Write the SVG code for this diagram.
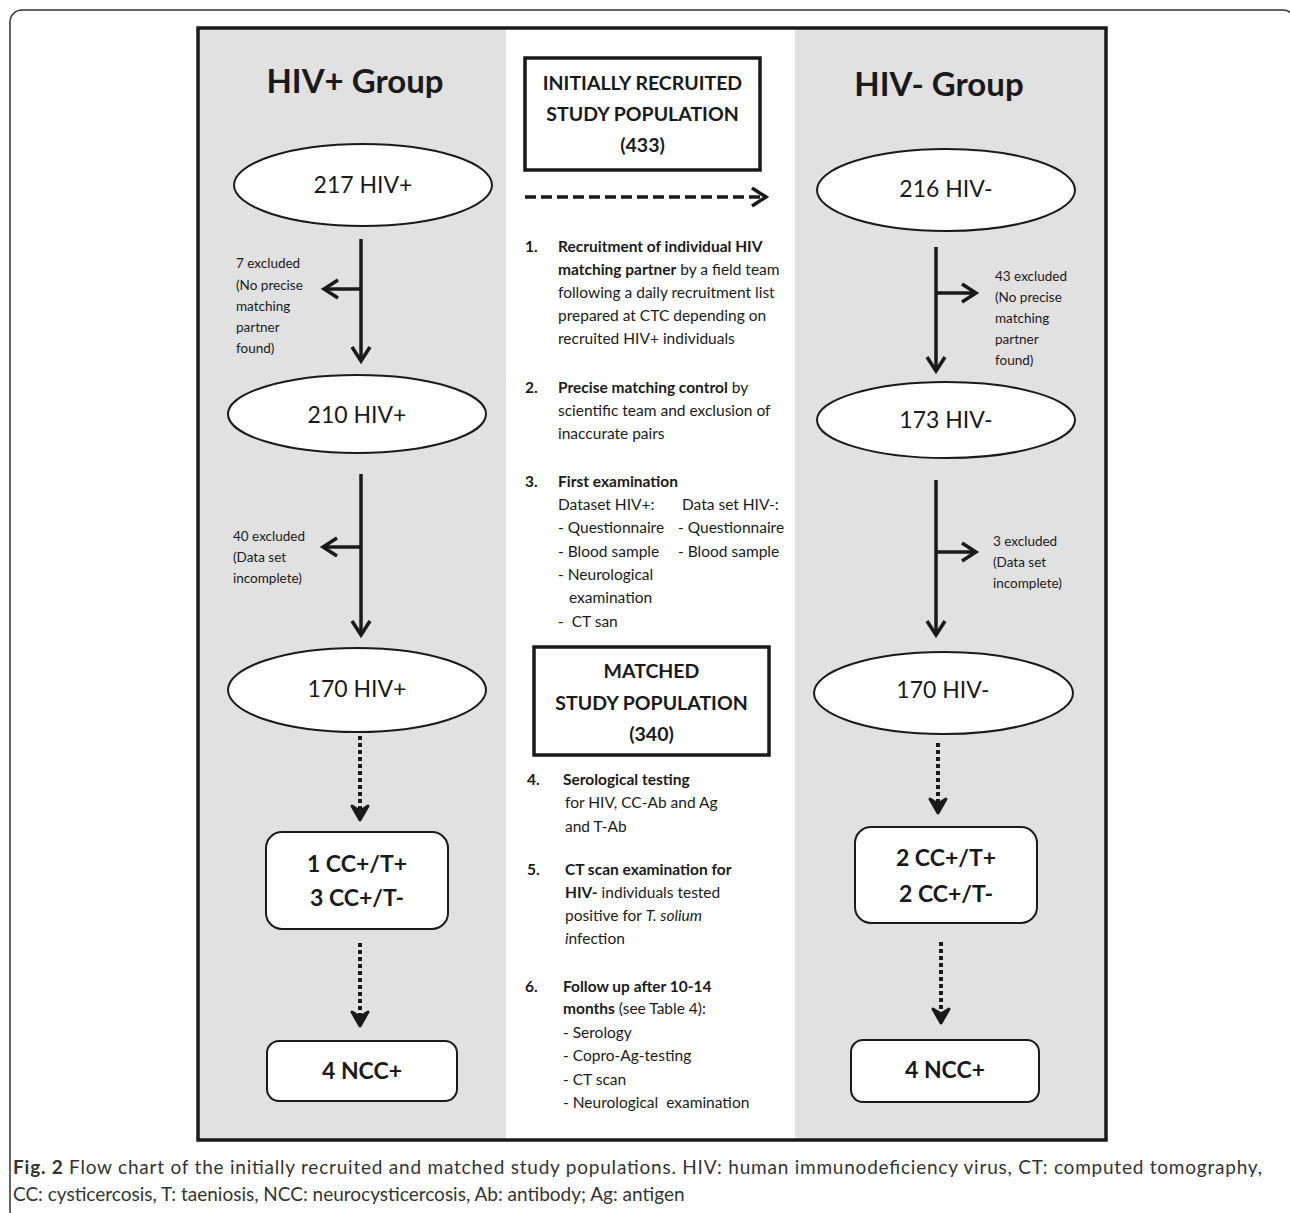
<svg xmlns="http://www.w3.org/2000/svg" width="1290" height="1213" viewBox="0 0 1290 1213">
<style>
text{font-family:Lato,"Open Sans","Liberation Sans",sans-serif;fill:#1a1a1a}
.title{font-size:33px;font-weight:bold;text-anchor:middle}
.ell{font-size:23px;text-anchor:middle}
.box{font-size:23px;font-weight:bold;text-anchor:middle}
.hdr{font-size:19.5px;font-weight:bold;text-anchor:middle}
.ex{font-size:13.5px}
.m{font-size:15.5px}
.b{font-weight:bold}
.i{font-style:italic}
.cap{font-size:19px;fill:#333}
.node{fill:#fff;stroke:#1a1a1a;stroke-width:2}
.frame{fill:#fff;stroke:#1a1a1a;stroke-width:3.5}
.solid{stroke:#1a1a1a;stroke-width:3.5;fill:none}
.dot{stroke:#1a1a1a;stroke-width:4;fill:none;stroke-dasharray:4 3}
.dash{stroke:#1a1a1a;stroke-width:3.5;fill:none;stroke-dasharray:11 5}
</style>
<defs>
<marker id="ah" markerUnits="userSpaceOnUse" markerWidth="22" markerHeight="26" viewBox="-18 -13 22 26" refX="0" refY="0" orient="auto">
<path d="M-14,-9 L0,0 L-14,9" fill="none" stroke="#1a1a1a" stroke-width="3.5"/>
</marker>
<marker id="ahd" markerUnits="userSpaceOnUse" markerWidth="22" markerHeight="26" viewBox="-18 -13 22 26" refX="0" refY="0" orient="auto">
<path d="M-14,-8 L0,0 L-14,8 L-9,0 z" fill="#1a1a1a" stroke="#1a1a1a" stroke-width="3" stroke-linejoin="round"/>
</marker>
</defs>

<rect x="10" y="10" width="1285" height="1212" rx="12" fill="#fff" stroke="#333" stroke-width="1.5"/>

<g id="panel">
<rect x="198" y="28" width="908" height="1112" fill="#e1e1e1"/>
<rect x="506" y="28" width="289" height="1112" fill="#fff"/>
<rect x="198" y="28" width="908" height="1112" fill="none" stroke="#1a1a1a" stroke-width="3.5"/>
<text class="title" x="355" y="93">HIV+ Group</text>
<text class="title" x="939" y="96">HIV- Group</text>
</g>

<g id="connectors">
<line class="solid" x1="361" y1="239" x2="361" y2="361" marker-end="url(#ah)"/>
<line class="solid" x1="361" y1="289" x2="324" y2="289" marker-end="url(#ah)"/>
<line class="solid" x1="361" y1="474" x2="361" y2="635" marker-end="url(#ah)"/>
<line class="solid" x1="361" y1="547" x2="323" y2="547" marker-end="url(#ah)"/>
<line class="dot" x1="360" y1="736" x2="360" y2="820" marker-end="url(#ahd)"/>
<line class="dot" x1="360" y1="943" x2="360" y2="1026" marker-end="url(#ahd)"/>
<line class="solid" x1="936" y1="247" x2="936" y2="371" marker-end="url(#ah)"/>
<line class="solid" x1="936" y1="293" x2="976" y2="293" marker-end="url(#ah)"/>
<line class="solid" x1="936" y1="480" x2="936" y2="635" marker-end="url(#ah)"/>
<line class="solid" x1="936" y1="552" x2="976" y2="552" marker-end="url(#ah)"/>
<line class="dot" x1="938" y1="743" x2="938" y2="813" marker-end="url(#ahd)"/>
<line class="dot" x1="941" y1="942" x2="941" y2="1023" marker-end="url(#ahd)"/>
<line class="dash" x1="525" y1="197" x2="766" y2="197" marker-end="url(#ah)"/>
</g>

<g id="n217">
<ellipse class="node" cx="363" cy="185" rx="129" ry="41"/>
<text class="ell" x="363" y="193">217 HIV+</text>
</g>
<g id="n210">
<ellipse class="node" cx="357" cy="414" rx="129" ry="39"/>
<text class="ell" x="357" y="423">210 HIV+</text>
</g>
<g id="n170p">
<ellipse class="node" cx="357" cy="690" rx="129" ry="42"/>
<text class="ell" x="357" y="697">170 HIV+</text>
</g>
<g id="ccp">
<rect class="node" x="266" y="832" width="182" height="97" rx="16"/>
<text class="box" x="357" y="872">1 CC+/T+</text>
<text class="box" x="357" y="906">3 CC+/T-</text>
</g>
<g id="nccp">
<rect class="node" x="267" y="1041" width="190" height="60" rx="12"/>
<text class="box" x="362" y="1079">4 NCC+</text>
</g>

<g id="n216">
<ellipse class="node" cx="946" cy="190" rx="129" ry="41"/>
<text class="ell" x="946" y="197">216 HIV-</text>
</g>
<g id="n173">
<ellipse class="node" cx="946" cy="420" rx="129" ry="38"/>
<text class="ell" x="946" y="428">173 HIV-</text>
</g>
<g id="n170m">
<ellipse class="node" cx="943.5" cy="693" rx="129.5" ry="41"/>
<text class="ell" x="943" y="698">170 HIV-</text>
</g>
<g id="ccm">
<rect class="node" x="855" y="827" width="182" height="96" rx="16"/>
<text class="box" x="946" y="866">2 CC+/T+</text>
<text class="box" x="946" y="902">2 CC+/T-</text>
</g>
<g id="nccm">
<rect class="node" x="851" y="1040" width="188" height="62" rx="12"/>
<text class="box" x="945" y="1078">4 NCC+</text>
</g>

<g id="ex7">
<text class="ex" x="236" y="268">7 excluded</text>
<text class="ex" x="236" y="290">(No precise</text>
<text class="ex" x="236" y="311">matching</text>
<text class="ex" x="236" y="332">partner</text>
<text class="ex" x="236" y="353">found)</text>
</g>
<g id="ex40">
<text class="ex" x="233" y="541">40 excluded</text>
<text class="ex" x="233" y="562">(Data set</text>
<text class="ex" x="233" y="583">incomplete)</text>
</g>
<g id="ex43">
<text class="ex" x="995" y="281">43 excluded</text>
<text class="ex" x="995" y="302">(No precise</text>
<text class="ex" x="995" y="323">matching</text>
<text class="ex" x="995" y="344">partner</text>
<text class="ex" x="995" y="365">found)</text>
</g>
<g id="ex3">
<text class="ex" x="993" y="546">3 excluded</text>
<text class="ex" x="993" y="567">(Data set</text>
<text class="ex" x="993" y="588">incomplete)</text>
</g>

<g id="initial">
<rect class="frame" x="525" y="58" width="235" height="112"/>
<text class="hdr" x="642.5" y="90">INITIALLY RECRUITED</text>
<text class="hdr" x="642.5" y="121">STUDY POPULATION</text>
<text class="hdr" x="642.5" y="152">(433)</text>
</g>

<g id="matched">
<rect class="frame" x="534" y="647" width="235" height="108"/>
<text class="hdr" x="651.5" y="678">MATCHED</text>
<text class="hdr" x="651.5" y="710">STUDY POPULATION</text>
<text class="hdr" x="651.5" y="741">(340)</text>
</g>

<g id="steps">
<text class="m b" x="525" y="252">1.</text>
<text class="m b" x="558" y="252">Recruitment of individual HIV</text>
<text class="m" x="558" y="275"><tspan class="b">matching partner</tspan> by a field team</text>
<text class="m" x="558" y="298">following a daily recruitment list</text>
<text class="m" x="558" y="321">prepared at CTC depending on</text>
<text class="m" x="558" y="344">recruited HIV+ individuals</text>

<text class="m b" x="525" y="393">2.</text>
<text class="m" x="558" y="393"><tspan class="b">Precise matching control</tspan> by</text>
<text class="m" x="558" y="416">scientific team and exclusion of</text>
<text class="m" x="558" y="439">inaccurate pairs</text>

<text class="m b" x="525" y="487">3.</text>
<text class="m b" x="558" y="487">First examination</text>
<text class="m" x="558" y="510">Dataset HIV+:</text>
<text class="m" x="682" y="510">Data set HIV-:</text>
<text class="m" x="558" y="533">- Questionnaire</text>
<text class="m" x="678" y="533">- Questionnaire</text>
<text class="m" x="558" y="557">- Blood sample</text>
<text class="m" x="678" y="557">- Blood sample</text>
<text class="m" x="558" y="580">- Neurological</text>
<text class="m" x="569" y="603">examination</text>
<text class="m" x="558" y="627" xml:space="preserve">-  CT san</text>

<text class="m b" x="527" y="785">4.</text>
<text class="m b" x="563" y="785">Serological testing</text>
<text class="m" x="565" y="808">for HIV, CC-Ab and Ag</text>
<text class="m" x="565" y="832">and T-Ab</text>

<text class="m b" x="527" y="875">5.</text>
<text class="m b" x="565" y="875">CT scan examination for</text>
<text class="m" x="565" y="898"><tspan class="b">HIV-</tspan> individuals tested</text>
<text class="m" x="565" y="921">positive for <tspan class="i">T. solium</tspan></text>
<text class="m" x="565" y="944"><tspan class="i">i</tspan>nfection</text>

<text class="m b" x="525" y="992">6.</text>
<text class="m b" x="563" y="992">Follow up after 10-14</text>
<text class="m" x="563" y="1014"><tspan class="b">months</tspan> (see Table 4):</text>
<text class="m" x="563" y="1038">- Serology</text>
<text class="m" x="563" y="1061">- Copro-Ag-testing</text>
<text class="m" x="563" y="1085">- CT scan</text>
<text class="m" x="563" y="1108" xml:space="preserve">- Neurological  examination</text>
</g>

<g id="caption">
<text class="cap" x="13" y="1174" textLength="1249" lengthAdjust="spacing"><tspan class="b">Fig. 2</tspan> Flow chart of the initially recruited and matched study populations. HIV: human immunodeficiency virus, CT: computed tomography,</text>
<text class="cap" x="13" y="1201">CC: cysticercosis, T: taeniosis, NCC: neurocysticercosis, Ab: antibody; Ag: antigen</text>
</g>
</svg>
